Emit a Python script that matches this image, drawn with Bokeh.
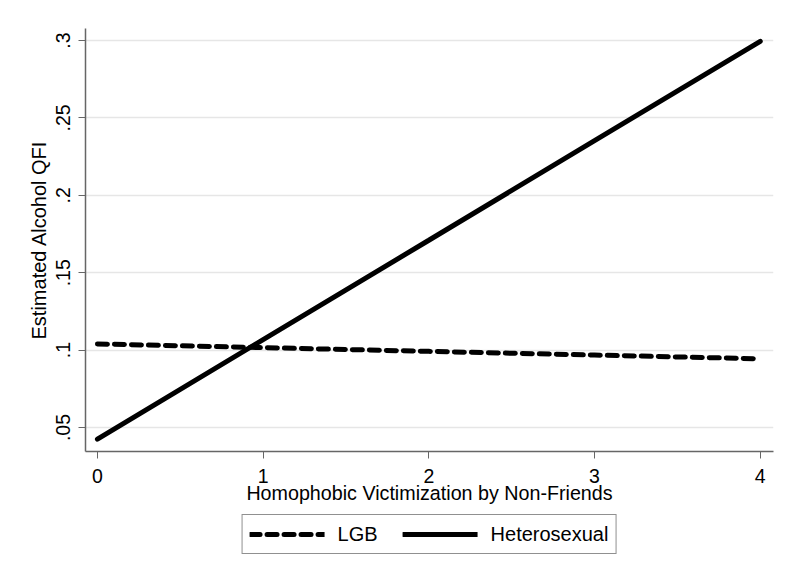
from bokeh.plotting import figure
from bokeh.models import Range1d, Legend, LegendItem, FixedTicker
from bokeh.layouts import column
from bokeh.embed import file_html
from bokeh.resources import INLINE

# Data
victimization = [0, 1, 2, 3, 4]
lgb_qfi = [0.1040, 0.1016, 0.0992, 0.0968, 0.0944]
hetero_qfi = [0.0425, 0.1068, 0.1710, 0.2353, 0.2995]
y_ticks = [0.05, 0.10, 0.15, 0.20, 0.25, 0.30]
y_tick_labels = [".05", ".1", ".15", ".2", ".25", ".3"]
x_ticks = [0, 1, 2, 3, 4]
series_labels = ["LGB", "Heterosexual"]

FONT = "Liberation Sans"
LINE_STYLES = [dict(line_dash="10 7"), dict(line_dash="solid")]

p = figure(width=793, height=512, output_backend="svg", toolbar_location=None,
           x_range=Range1d(-0.072, 4.08), y_range=Range1d(0.0345, 0.3078),
           min_border_left=85, min_border_right=20, min_border_top=28, min_border_bottom=61)
p.outline_line_color = None
p.background_fill_color = "white"
p.border_fill_color = "white"

for ys, st in zip([lgb_qfi, hetero_qfi], LINE_STYLES):
    p.line(victimization, ys, line_color="black", line_width=5, line_cap="round", **st)

# grid
p.xgrid.visible = False
p.ygrid.ticker = FixedTicker(ticks=y_ticks)
p.ygrid.grid_line_color = "#e6e6e6"
p.ygrid.grid_line_width = 1.5

# axes
for ax in (p.xaxis[0], p.yaxis[0]):
    ax.axis_line_color = "#666666"
    ax.axis_line_width = 1.5
    ax.major_tick_line_color = "#666666"
    ax.major_tick_line_width = 1
    ax.major_tick_out = 7
    ax.major_tick_in = 0
    ax.minor_tick_line_color = None
    ax.major_label_text_font = FONT
    ax.major_label_text_font_size = "19.5px"
    ax.major_label_text_color = "black"
    ax.axis_label_text_font = FONT
    ax.axis_label_text_font_style = "normal"
    ax.axis_label_text_color = "black"

p.xaxis.ticker = FixedTicker(ticks=x_ticks)
p.xaxis.axis_label = "Homophobic Victimization by Non-Friends"
p.xaxis.axis_label_text_font_size = "19.7px"
p.xaxis.major_label_standoff = 10
p.xaxis.axis_label_standoff = -4

p.yaxis.ticker = FixedTicker(ticks=y_ticks)
p.yaxis.major_label_overrides = {t: l for t, l in zip(y_ticks, y_tick_labels)}
p.yaxis.major_label_orientation = "vertical"
p.yaxis.axis_label = "Estimated Alcohol QFI"
p.yaxis.axis_label_text_font_size = "20px"
p.yaxis.major_label_standoff = 8
p.yaxis.axis_label_standoff = 4

# legend panel (separate strip under the plot)
lf = figure(width=793, height=66, output_backend="svg", toolbar_location=None,
            x_range=Range1d(0, 1), y_range=Range1d(0, 1),
            min_border_left=52, min_border_right=0, min_border_top=0, min_border_bottom=0)
lf.axis.visible = False
lf.grid.visible = False
lf.outline_line_color = None
lf.border_fill_color = "white"
items = []
for lab, st in zip(series_labels, LINE_STYLES):
    # legend-only renderers (no visible data; NaN keeps the swatch drawable)
    r = lf.line([float("nan")], [float("nan")], line_color="black", line_width=5,
                line_cap="round", **st)
    items.append(LegendItem(label=lab, renderers=[r]))

legend = Legend(items=items, orientation="horizontal", location="top_center")
legend.label_text_font = FONT
legend.label_text_font_size = "20px"
legend.label_text_color = "black"
legend.glyph_width = 75
legend.glyph_height = 24
legend.label_height = 24
legend.label_standoff = 13
legend.spacing = 25
legend.padding = 7
legend.margin = 2
legend.border_line_color = "#222222"
legend.border_line_width = 1
legend.background_fill_color = "white"
lf.add_layout(legend, "center")

layout = column(p, lf, spacing=0)
open("out.html", "w").write(file_html(layout, INLINE))
